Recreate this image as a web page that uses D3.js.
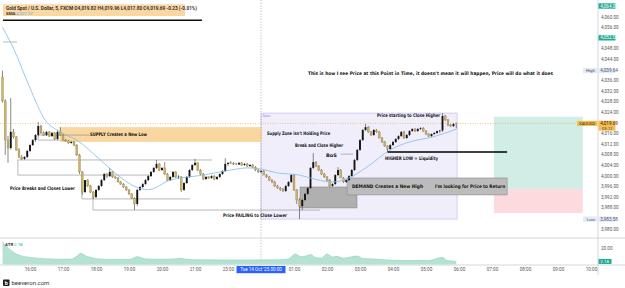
<!DOCTYPE html>
<html>
<head>
<meta charset="utf-8">
<script src="https://cdn.jsdelivr.net/npm/d3@7"></script>
<style>
  body { margin: 0; background: #fff; }
  svg { display: block; font-family: Roboto, "Liberation Sans", sans-serif; }
</style>
</head>
<body>
<svg id="chart" width="625" height="288"></svg>
<script>
// 5 minute candles, XAUUSD, 15:10 -> 05:55  [open, high, low, close]
let candles = [
  [4037.2,4039.6,4027.5,4028.2],[4028.2,4028.8,4007.8,4013.4],[4013.4,4015.0,4004.8,4010.4],[4010.4,4029.3,4009.8,4016.5],
  [4016.5,4017.6,4014.0,4014.6],[4014.6,4015.0,4009.3,4009.7],[4009.7,4010.4,4006.6,4007.0],[4007.0,4007.8,4005.9,4006.3],
  [4006.3,4007.4,4005.9,4007.0],[4007.0,4009.7,4006.6,4009.3],[4009.3,4011.9,4008.9,4011.5],[4011.5,4013.8,4011.2,4013.4],
  [4013.4,4015.7,4012.7,4015.3],[4015.3,4020.2,4014.9,4018.7],[4018.7,4019.1,4015.7,4016.1],[4016.1,4016.8,4014.9,4015.3],
  [4015.3,4016.8,4014.9,4016.5],[4016.5,4016.8,4014.6,4014.9],[4014.9,4016.5,4014.6,4016.1],[4016.1,4016.5,4013.4,4013.8],
  [4013.8,4017.2,4013.4,4016.5],[4016.5,4018.3,4015.0,4015.3],[4015.3,4015.7,4013.1,4013.4],[4013.4,4013.8,4012.7,4013.1],
  [4013.1,4013.4,4012.0,4012.3],[4012.3,4013.1,4012.0,4012.7],[4012.7,4013.1,4011.2,4011.5],[4011.5,4011.9,4007.4,4007.8],
  [4007.8,4008.2,4000.6,4001.4],[4001.4,4001.7,3992.7,3993.8],[3993.8,3998.3,3993.4,3998.3],[3998.3,3998.7,3995.7,3996.1],
  [3996.1,3996.5,3993.4,3993.8],[3993.8,3994.2,3991.2,3991.9],[3991.9,3994.9,3991.5,3994.6],[3994.6,3996.5,3994.2,3996.1],
  [3996.1,3998.7,3995.7,3998.3],[3998.3,4001.0,3997.9,4000.6],[4000.6,4001.0,3999.1,3999.8],[3999.8,4002.9,3999.5,4001.4],
  [4001.4,4001.7,3999.1,3999.5],[3999.5,3999.8,3998.7,3999.1],[3999.1,3999.5,3997.4,3997.6],[3997.6,3998.0,3996.5,3996.8],
  [3996.8,3997.2,3995.3,3995.7],[3995.7,3996.1,3994.2,3994.6],[3994.6,3994.9,3992.7,3993.1],[3993.1,3993.4,3991.2,3991.5],
  [3991.5,3991.9,3987.0,3989.3],[3989.3,3995.0,3988.5,3994.6],[3994.6,3996.1,3994.2,3995.7],[3995.7,3997.2,3995.3,3996.8],
  [3996.8,3998.7,3996.5,3998.3],[3998.3,4000.2,3997.9,3999.8],[3999.8,4001.7,3999.5,4001.4],[4001.4,4003.2,4001.0,4002.9],
  [4002.9,4005.9,4002.5,4004.4],[4004.4,4004.8,4001.7,4002.1],[4002.1,4003.2,4001.7,4002.9],[4002.9,4005.1,4000.2,4000.6],
  [4000.6,4001.0,3998.0,3998.3],[3998.3,3999.8,3997.9,3999.5],[3999.5,4001.7,3999.1,4001.4],[4001.4,4001.7,3999.1,3999.5],
  [3999.5,4000.2,3998.7,3999.6],[3999.5,3999.8,3993.8,3994.6],[3994.6,3997.6,3994.2,3997.2],[3997.2,3999.8,3996.8,3999.5],
  [3999.5,4002.5,3999.1,4002.1],[4002.1,4004.4,4001.7,4004.0],[4004.0,4006.3,4003.6,4004.8],[4004.8,4005.1,4001.7,4002.1],
  [4002.1,4002.5,4000.2,4000.6],[4000.6,4001.0,3998.3,3998.7],[3998.7,3999.8,3998.3,3999.5],[3999.5,3999.8,3998.7,3999.1],
  [3999.1,4000.2,3998.7,3999.8],[3999.8,4000.2,3998.3,3998.7],[3998.7,3999.8,3998.3,3999.5],[3999.5,4000.9,3999.1,4000.6],
  [4000.6,4002.1,4000.2,4001.7],[4001.7,4006.6,4001.4,4004.4],[4004.4,4005.1,4003.6,4004.8],[4004.8,4005.5,4004.4,4004.6],
  [4004.6,4005.1,4004.0,4004.4],[4004.4,4004.8,4004.0,4004.2],[4004.2,4005.1,4004.0,4004.8],[4004.8,4005.1,4003.6,4004.0],
  [4004.0,4004.8,4003.6,4004.4],[4004.4,4004.8,4003.2,4003.6],[4003.6,4004.4,4003.2,4004.0],[4004.0,4004.4,4002.9,4003.2],
  [4003.2,4003.6,4001.7,4002.1],[4002.1,4002.5,4001.0,4001.4],[4001.4,4002.1,4001.0,4001.7],[4001.7,4002.1,4000.2,4000.2],
  [4000.2,4000.6,3999.1,3999.5],[3999.5,3999.8,3998.0,3998.3],[3998.3,3998.7,3997.2,3997.6],[3997.6,3998.0,3995.7,3996.1],
  [3996.1,3996.5,3995.0,3995.3],[3995.3,3995.7,3994.2,3994.9],[3994.9,3995.3,3993.8,3994.2],[3994.2,3996.5,3993.8,3996.1],
  [3996.1,3997.9,3995.7,3997.6],[3997.6,4000.6,3997.2,4000.2],[4000.2,4000.6,3994.2,3994.6],[3994.6,3994.9,3989.3,3990.8],
  [3990.8,3991.5,3983.6,3988.5],[3988.5,3991.2,3987.0,3990.8],[3990.8,3993.4,3990.4,3993.1],[3993.1,3995.7,3992.7,3995.3],
  [3995.3,4003.2,3994.9,4002.9],[4002.9,4008.5,4002.5,4005.1],[4005.1,4005.5,4003.2,4003.6],[4003.6,4004.0,4001.7,4002.1],
  [4002.1,4002.5,4000.2,4000.6],[4000.6,4001.0,3999.1,3999.5],[3999.5,3999.8,3997.9,3998.3],[3998.3,3998.7,3995.7,3996.1],
  [3996.1,3997.2,3995.7,3996.8],[3996.8,4000.6,3996.5,4000.2],[4000.2,4003.2,3999.8,4002.1],[4002.1,4002.5,3999.1,3999.1],
  [3999.1,3999.5,3997.2,3997.6],[3997.6,3998.7,3997.2,3998.3],[3998.3,4000.2,3997.9,3999.8],[3999.8,4002.5,3999.5,4002.1],
  [4002.1,4006.3,4001.7,4005.9],[4005.9,4010.0,4005.5,4009.7],[4009.7,4013.8,4009.3,4013.4],[4013.4,4017.6,4013.1,4017.2],
  [4017.2,4019.5,4016.8,4018.3],[4018.3,4018.7,4016.1,4016.5],[4016.5,4016.8,4015.0,4015.3],[4015.3,4017.6,4015.0,4017.2],
  [4017.2,4017.6,4016.1,4016.5],[4016.5,4016.8,4014.0,4014.2],[4014.2,4014.6,4012.3,4012.7],[4012.7,4013.1,4010.8,4011.2],
  [4011.2,4011.5,4008.9,4010.0],[4010.0,4011.9,4009.7,4011.5],[4011.5,4013.1,4011.2,4012.7],[4012.7,4014.2,4012.3,4013.8],
  [4013.8,4015.3,4013.4,4014.9],[4014.9,4016.8,4014.6,4016.5],[4016.5,4016.8,4013.8,4014.2],[4014.2,4015.7,4013.8,4015.3],
  [4015.3,4017.2,4014.9,4016.8],[4016.8,4017.9,4016.5,4017.6],[4017.6,4017.9,4016.5,4016.8],[4016.8,4018.0,4016.5,4017.6],
  [4017.6,4018.3,4017.2,4017.9],[4017.9,4018.3,4016.5,4016.8],[4016.8,4017.2,4015.3,4015.7],[4015.7,4016.1,4014.6,4014.9],
  [4014.9,4015.9,4014.6,4015.7],[4015.7,4016.4,4015.3,4016.1],[4016.1,4017.0,4015.7,4016.8],[4016.8,4017.2,4016.1,4017.0],
  [4017.0,4023.6,4016.5,4022.5],[4022.5,4022.9,4020.6,4021.0],[4021.0,4021.4,4018.7,4019.1],[4019.1,4019.5,4018.3,4018.7],
  [4018.7,4019.8,4018.3,4019.5],[4019.82,4019.96,4017.80,4019.69]
];

// SMA: [bar index, price]
let smaPoints = [
  [0,4056],[4,4048],[10,4033],[15.5,4021],[21,4016.5],[27,4013.4],[35.5,4006],[42.7,3999.5],[49,3995.5],[53,3994.7],
  [61,3998.3],[73,4000.2],[83,4002.1],[89,4002.9],[94,4002.5],[100,4001],[108,4000.2],[114,3998.5],[120,3997.6],
  [126,3999.1],[132.5,4003.2],[141,4009.7],[148,4012.7],[156.5,4014.6],[165,4017.5]
];

// ATR pane: [bar index, value]
let atrPoints = [
  [0,28],[1.5,22],[3,17],[5,12],[7,9.5],[10,7.5],[13,6.5],[17,5.5],[22,5],[25,5.2],[27,9],[28.5,12.9],[30,10],
  [32,7.5],[35,5.5],[40,4.8],[46,4.7],[49,8.4],[52,5.5],[58,5],[62,5.3],[64.5,6.3],[67,5],[72,4.2],[80,4],[90,4],
  [100,4.2],[104,5.5],[106.5,12],[108.5,8.5],[111,10],[112,11.5],[114,7],[116,6.5],[118,12],[120,8],[121.5,9],
  [124,6.5],[129,9.3],[131,6],[135,5.3],[140,4],[145,3.3],[155,3.3],[160,7.6],[161.5,3.3],[165,2.18]
];

let priceTicks = [3980,3988,3992,3996,4000,4004,4008,4012,4016,4024,4028,4032,4036,4044,4048,4056,4060];
let greenTicks = [4064,4052];
let timeTickBars = [10,22,34,46,58,70,82,106,118,130,142,154,166,178,190,202,214];
let timeTickLabels = ['16:00','17:00','18:00','19:00','20:00','21:00','23:00','01:00','02:00','03:00','04:00','05:00','06:00','07:00','08:00','09:00','10:00'];

let lastPrice = 4019.69, highPrice = 4039.64, lowPrice = 3983.58, smaLast = 4007.37, atrLast = 2.18;

const svg = d3.select('#chart');
const x = d3.scaleLinear().domain([0, 216]).range([2.5, 596.5]);
const y = d3.scaleLinear().domain([3980, 4064]).range([228.6, 6]);
const yAtr = d3.scaleLinear().domain([0, 20]).range([263, 248]);
const axisX = 598;

// ---- zones (behind candles)
function box(i0, i1, p0, p1, fill, stroke, sw) {
  svg.append('rect')
    .attr('x', x(i0)).attr('width', x(i1) - x(i0))
    .attr('y', y(p0)).attr('height', y(p1) - y(p0))
    .attr('fill', fill).attr('stroke', stroke || 'none').attr('stroke-width', sw || 0.6);
}
box(94, 165.3, 4023.6, 3983.6, '#f0eefb', '#bdb3ea', 0.6);          // range box
box(20.9, 94.4, 4018.3, 4012.7, '#fad6a0');                          // supply
box(178.7, 211, 4022.2, 3994.9, '#d0ede6');                          // target
box(178.7, 211, 3994.9, 3985.9, '#fcdadd');                          // stop
box(108.2, 128.9, 3995.7, 3987.8, '#b0b0b0', '#7d7d7d', 0.5);
box(125.3, 183.5, 3999.1, 3992.7, '#bcbcbc', '#7d7d7d', 0.5);        // demand

// last price dotted line
svg.append('line').attr('x1', 0).attr('x2', axisX)
  .attr('y1', y(lastPrice)).attr('y2', y(lastPrice))
  .attr('stroke', '#e9b04a').attr('stroke-width', 0.7).attr('stroke-dasharray', '1,1.5');

// crosshair
svg.append('line').attr('x1', x(94)).attr('x2', x(94)).attr('y1', 0).attr('y2', 265)
  .attr('stroke', '#8d95aa').attr('stroke-width', 0.6).attr('stroke-dasharray', '1.2,1.5');

// drawn grey levels [from bar, to bar, price]
let levels = [
  [5.6,76.2,4005.9],[5.6,53.6,4000.2],[28.9,68.2,3991.2],[32.9,115.5,3987.0],[0.2,5.3,4050.4],
  [13,31.8,4015.3],[13,20.9,4013.4],[123,127.5,4008.1]
];
svg.selectAll('line.lvl').data(levels).enter().append('line').attr('class', 'lvl')
  .attr('x1', d => x(d[0])).attr('x2', d => x(d[1]))
  .attr('y1', d => y(d[2])).attr('y2', d => y(d[2]))
  .attr('stroke', '#8a8a8a').attr('stroke-width', 0.6);
let ticks = [[5.6,4005.9,4000.2],[28.9,3995.3,3991.2],[32.9,3992.7,3987.0],[13,4015.3,4013.4]];
svg.selectAll('line.vt').data(ticks).enter().append('line').attr('class', 'vt')
  .attr('x1', d => x(d[0])).attr('x2', d => x(d[0]))
  .attr('y1', d => y(d[1])).attr('y2', d => y(d[2]))
  .attr('stroke', '#8a8a8a').attr('stroke-width', 0.6);

// ---- candles
const upCol = '#141414', dnCol = '#cdb266';
const cg = svg.append('g');
cg.selectAll('line').data(candles).enter().append('line')
  .attr('x1', (d, i) => x(i)).attr('x2', (d, i) => x(i))
  .attr('y1', d => y(d[1])).attr('y2', d => y(d[2]))
  .attr('stroke', '#3a3a3a').attr('stroke-width', 0.6);
cg.selectAll('rect').data(candles).enter().append('rect')
  .attr('x', (d, i) => x(i) - 0.95).attr('width', 1.9)
  .attr('y', d => y(Math.max(d[0], d[3])))
  .attr('height', d => Math.max(0.7, Math.abs(y(d[0]) - y(d[3]))))
  .attr('fill', d => d[3] >= d[0] ? upCol : dnCol)
  .attr('stroke', d => d[3] >= d[0] ? 'none' : '#8a7440').attr('stroke-width', 0.3);

// SMA
svg.append('path').datum(smaPoints)
  .attr('d', d3.line().x(d => x(d[0])).y(d => y(d[1])).curve(d3.curveMonotoneX))
  .attr('fill', 'none').attr('stroke', '#7fbde8').attr('stroke-width', 0.8);

// heavy black lines
svg.append('line').attr('x1', x(140)).attr('x2', x(183.5)).attr('y1', y(4008.9)).attr('y2', y(4008.9))
  .attr('stroke', '#000').attr('stroke-width', 1.3);
svg.append('line').attr('x1', 3).attr('x2', 202).attr('y1', 20.3).attr('y2', 20.3)
  .attr('stroke', '#111').attr('stroke-width', 1.6);

// ---- annotations [text, bar, price, width]
let notes = [
  ['SUPPLY   Creates a New Low', 31.8, 4015.7, 57],
  ['Price Breaks and Closes Lower', 2.7, 3995.3, 65],
  ['Price FAILING to Close Lower', 80.2, 3985.1, 64],
  ["Supply Zone isn't Holding Price", 96.2, 4016.1, 63],
  ['Break and Close Higher', 106.4, 4011.5, 48],
  ['BoS', 117.6, 4007.8, 11],
  ['HIGHER LOW = Liquidity', 139.1, 4006.6, 53],
  ['Price starting to Close Higher', 136.2, 4022.9, 63],
  ['DEMAND Creates a New High', 127.1, 3996.1, 71],
  ["I'm looking for Price to Return", 157.3, 3996.1, 70],
  ["This is how I see Price at this Point in Time, it doesn't mean it will happen, Price will do what it does", 111.1, 4038.7, 245]
];
svg.selectAll('text.note').data(notes).enter().append('text').attr('class', 'note')
  .attr('x', d => x(d[1])).attr('y', d => y(d[2]) + 1.7)
  .attr('textLength', d => d[3]).attr('lengthAdjust', 'spacingAndGlyphs')
  .style('font-family', '"DejaVu Sans"').style('font-size', '4.8px').style('font-weight', 'bold')
  .attr('fill', '#111')
  .text(d => d[0]);
svg.append('text').attr('x', x(94) + 1.5).attr('y', y(4023.6) + 4).style('font-size', '3.4px')
  .attr('fill', '#9d92d6').text('Gann');

// ---- legend
svg.append('rect').attr('x', 3).attr('y', 4.3).attr('width', 182).attr('height', 11.7).attr('fill', '#fbd7a2');
svg.append('text').attr('x', 6).attr('y', 9.6).attr('textLength', 191).attr('lengthAdjust', 'spacingAndGlyphs')
  .style('font-size', '4.6px').style('font-weight', 'bold').attr('fill', '#333')
  .text('Gold Spot / U.S. Dollar, 5, FXCM  O4,019.82  H4,019.96  L4,017.80  C4,019.69  -0.23 (-0.01%)');
svg.append('text').attr('x', 6).attr('y', 15).style('font-size', '4.4px').style('font-weight', 'bold').attr('fill', '#333').text('SMA');
svg.append('text').attr('x', 16).attr('y', 15).style('font-size', '4.4px').attr('fill', '#6aaee0')
  .text(d3.format(',.2f')(smaLast));

// ---- ATR pane
svg.append('line').attr('x1', 0).attr('x2', 625).attr('y1', 238).attr('y2', 238).attr('stroke', '#c9ccd4').attr('stroke-width', 0.8);
svg.append('line').attr('x1', 0).attr('x2', 625).attr('y1', 265).attr('y2', 265).attr('stroke', '#c9ccd4').attr('stroke-width', 0.8);
svg.append('path').datum(atrPoints)
  .attr('d', d3.area().x(d => x(d[0])).y0(264.5).y1(d => yAtr(d[1])).curve(d3.curveMonotoneX))
  .attr('fill', '#b5e3d3');
svg.append('path').datum(atrPoints)
  .attr('d', d3.line().x(d => x(d[0])).y(d => yAtr(d[1])).curve(d3.curveMonotoneX))
  .attr('fill', 'none').attr('stroke', '#8fd0b9').attr('stroke-width', 0.6);
svg.append('text').attr('x', 5).attr('y', 245.5).style('font-size', '4.4px').style('font-weight', 'bold').attr('fill', '#333').text('ATR');
svg.append('text').attr('x', 14).attr('y', 245.5).style('font-size', '4.4px').attr('fill', '#22ab94').text(atrLast.toFixed(2));

// ---- price axis
svg.append('line').attr('x1', axisX).attr('x2', axisX).attr('y1', 0).attr('y2', 275).attr('stroke', '#c9ccd4').attr('stroke-width', 0.8);
const yAxis = d3.axisRight(y).tickValues(priceTicks).tickSize(0).tickPadding(3).tickFormat(d3.format(',.2f'));
const ya = svg.append('g').attr('transform', `translate(${axisX},0)`).call(yAxis);
ya.select('.domain').remove();
ya.selectAll('text').style('font-size', '4.6px').style('font-family', 'Roboto').attr('fill', '#555');

function axisTag(p, txt, bg, fg) {
  const cy = y(p);
  svg.append('rect').attr('x', axisX + 0.5).attr('y', cy - 2.7).attr('width', 17).attr('height', 5.4).attr('fill', bg);
  svg.append('text').attr('x', axisX + 2.3).attr('y', cy + 1.6).style('font-size', '4.6px').attr('fill', fg).text(txt);
}
greenTicks.forEach(p => axisTag(p, d3.format(',.2f')(p), '#22ab94', '#fff'));
axisTag(highPrice, d3.format(',.2f')(highPrice), '#e3e9f5', '#4a5670');
axisTag(lowPrice, d3.format(',.2f')(lowPrice), '#e3e9f5', '#4a5670');
[['High', highPrice], ['Low', lowPrice]].forEach(d => {
  svg.append('rect').attr('x', 583).attr('y', y(d[1]) - 2.7).attr('width', 14).attr('height', 5.4).attr('fill', '#e3e9f5');
  svg.append('text').attr('x', 595).attr('y', y(d[1]) + 1.6).attr('text-anchor', 'end').style('font-size', '4.4px').attr('fill', '#4a5670').text(d[0]);
});
// last price tag
svg.append('rect').attr('x', 577).attr('y', y(lastPrice) - 2.6).attr('width', 20.5).attr('height', 5.2).attr('fill', '#f6bd4f');
svg.append('text').attr('x', 587).attr('y', y(lastPrice) + 1.5).attr('text-anchor', 'middle').style('font-size', '4.2px').attr('fill', '#222').text('XAUUSD');
svg.append('rect').attr('x', axisX + 0.5).attr('y', y(lastPrice) - 2.8).attr('width', 17).attr('height', 10).attr('fill', '#f6bd4f');
svg.append('text').attr('x', axisX + 2.3).attr('y', y(lastPrice) + 1.6).style('font-size', '4.6px').attr('fill', '#222').text(d3.format(',.2f')(lastPrice));
svg.append('text').attr('x', axisX + 4).attr('y', y(lastPrice) + 6.4).style('font-size', '4.2px').attr('fill', '#444').text('03:12');

// ATR scale
svg.append('text').attr('x', axisX + 3).attr('y', yAtr(20) + 1.6).style('font-size', '4.6px').attr('fill', '#555').text('20.00');
svg.append('rect').attr('x', axisX + 0.5).attr('y', yAtr(atrLast) - 2.4).attr('width', 13).attr('height', 5).attr('fill', '#22ab94');
svg.append('text').attr('x', axisX + 2.3).attr('y', yAtr(atrLast) + 1.6).style('font-size', '4.4px').attr('fill', '#fff').text(atrLast.toFixed(2));

// ---- time axis
const xAxis = d3.axisBottom(x).tickValues(timeTickBars).tickSize(0).tickPadding(3)
  .tickFormat((d, i) => timeTickLabels[i]);
const xa = svg.append('g').attr('transform', 'translate(0,265)').call(xAxis);
xa.select('.domain').remove();
xa.selectAll('text').style('font-size', '4.6px').style('font-family', 'Roboto').attr('fill', '#555');
svg.append('rect').attr('x', x(94) - 24.5).attr('y', 266).attr('width', 49).attr('height', 7.2).attr('fill', '#2962ff');
svg.append('text').attr('x', x(94)).attr('y', 271.3).attr('text-anchor', 'middle').style('font-size', '4.6px')
  .attr('fill', '#fff').text("Tue 14 Oct '25   00:00");

// ---- watermark
svg.append('rect').attr('x', 3).attr('y', 279.5).attr('width', 6.5).attr('height', 6.5).attr('rx', 1).attr('fill', '#1b1b1b');
svg.append('text').attr('x', 6.25).attr('y', 285).attr('text-anchor', 'middle').style('font-size', '5.5px').style('font-weight', 'bold').attr('fill', '#fff').text('b');
svg.append('text').attr('x', 11.5).attr('y', 285.3).style('font-size', '6px').attr('fill', '#333').text('beeveron.com');
</script>
</body>
</html>
